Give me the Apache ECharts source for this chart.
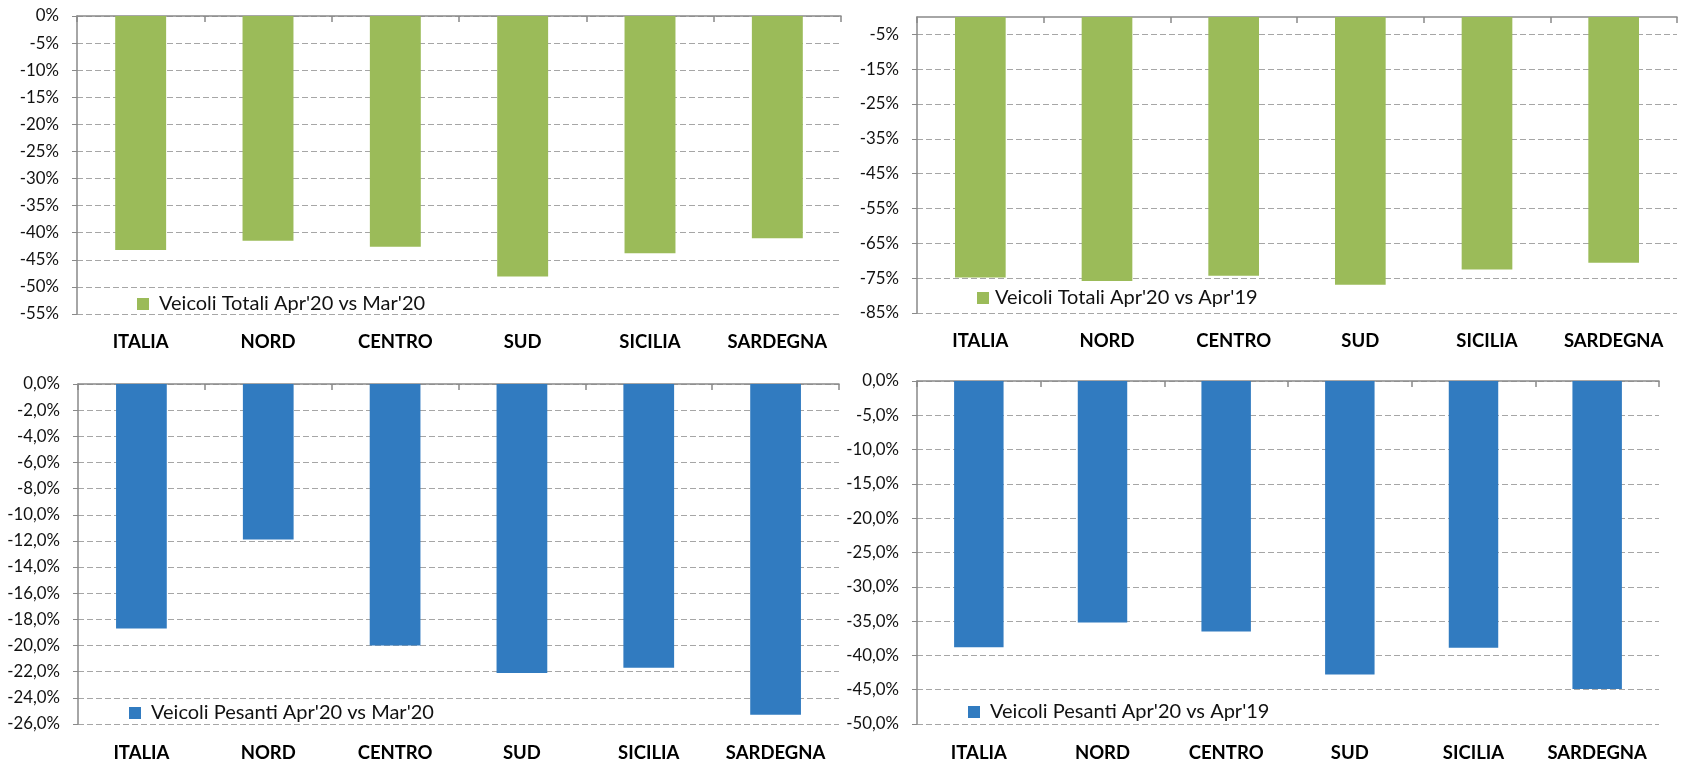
<!DOCTYPE html>
<html>
<head>
<meta charset="utf-8">
<script src="https://cdn.jsdelivr.net/npm/echarts@6/dist/echarts.min.js"></script>
<style>
  html, body { margin: 0; padding: 0; background: #ffffff; }
  #chart { width: 1681px; height: 763px; }
</style>
</head>
<body>
<div id="chart"></div>
<script>
// ---- data ----
const categories = ['ITALIA', 'NORD', 'CENTRO', 'SUD', 'SICILIA', 'SARDEGNA'];
const totaliAprMar = [-43.2, -41.5, -42.6, -48.1, -43.8, -41.0];
const totaliApr19 = [-74.8, -75.8, -74.3, -76.9, -72.5, -70.6];
const pesantiAprMar = [-18.7, -11.9, -20.0, -22.1, -21.7, -25.3];
const pesantiApr19 = [-38.8, -35.2, -36.5, -42.8, -38.9, -44.9];
const seriesNames = [
  "Veicoli Totali Apr'20 vs Mar'20",
  "Veicoli Totali Apr'20 vs Apr'19",
  "Veicoli Pesanti Apr'20 vs Mar'20",
  "Veicoli Pesanti Apr'20 vs Apr'19"
];
const ticksTotaliApr19 = [-85, -75, -65, -55, -45, -35, -25, -15, -5];

// ---- styles ----
const FONT = 'Lato';
const GREEN = '#9bbb59';
const BLUE = '#317bc0';
const AXIS = '#898989';
const GRID = '#a6a6a6';

const panels = [
  { grid: { left: 77, top: 16, width: 764, height: 298 }, data: totaliAprMar, color: GREEN,
    y: { min: -55, max: 0, interval: 5 }, fmt: v => v + '%',
    legend: { left: 137, top: 294 }, gap: 10, labMargin: 19 },
  { grid: { left: 917, top: 17, width: 760, height: 296 }, data: totaliApr19, color: GREEN,
    y: { min: -85, max: 0, custom: ticksTotaliApr19 }, fmt: v => v + '%',
    legend: { left: 977, top: 288 }, gap: 6, labMargin: 19 },
  { grid: { left: 78, top: 384, width: 761, height: 340 }, data: pesantiAprMar, color: BLUE,
    y: { min: -26, max: 0, interval: 2 }, fmt: v => v.toFixed(1).replace('.', ',') + '%',
    legend: { left: 129, top: 703 }, gap: 10, labMargin: 20 },
  { grid: { left: 917, top: 381, width: 742, height: 347 }, data: pesantiApr19, color: BLUE,
    y: { min: -50, max: 0, interval: 5 }, fmt: v => v.toFixed(1).replace('.', ',') + '%',
    legend: { left: 968, top: 702 }, gap: 10, labMargin: 20 }
];

const grids = [], xAxes = [], yAxes = [], series = [], legends = [];
panels.forEach((p, i) => {
  grids.push(Object.assign({ containLabel: false }, p.grid));
  // top axis line with inward ticks
  xAxes.push({
    type: 'category', gridIndex: i, data: categories, position: 'top',
    axisLine: { show: true, onZero: false, lineStyle: { color: AXIS, width: 1.5 } },
    axisTick: { show: true, inside: true, length: 6, lineStyle: { color: AXIS, width: 1.5 } },
    axisLabel: { show: false }, splitLine: { show: false }
  });
  // bottom category labels
  xAxes.push({
    type: 'category', gridIndex: i, data: categories, position: 'bottom',
    axisLine: { show: false }, axisTick: { show: false },
    axisLabel: { show: true, interval: 0, hideOverlap: false, margin: p.labMargin, color: '#000',
      fontFamily: FONT, fontWeight: 'bold', fontSize: 18.5 },
    splitLine: { show: false }
  });
  const y = {
    type: 'value', gridIndex: i, min: p.y.min, max: p.y.max,
    axisLine: { show: true, lineStyle: { color: AXIS, width: 1.5 } },
    axisTick: { show: true, length: 5, lineStyle: { color: AXIS, width: 1 } },
    axisLabel: { margin: 18, color: '#111', fontFamily: FONT, fontSize: 16.8, formatter: p.fmt },
    splitLine: { show: true, lineStyle: { color: GRID, width: 1, type: [6, 3] } }
  };
  if (p.y.interval) y.interval = p.y.interval;
  if (p.y.custom) {
    y.axisTick.customValues = p.y.custom;
    y.axisLabel.customValues = p.y.custom;
  }
  yAxes.push(y);
  series.push({
    type: 'bar', name: seriesNames[i], xAxisIndex: 2 * i, yAxisIndex: i,
    data: p.data, barWidth: '40%',
    itemStyle: { color: p.color }
  });
  legends.push({
    data: [seriesNames[i]], left: p.legend.left, top: p.legend.top, padding: 0,
    icon: 'rect', itemWidth: 12, itemHeight: 12,
    textStyle: { fontFamily: FONT, fontSize: 20, color: '#111', padding: [0, 0, 0, p.gap - 5] },
    selectedMode: false
  });
});

const chart = echarts.init(document.getElementById('chart'), null, { renderer: 'canvas' });
chart.setOption({
  animation: false,
  backgroundColor: '#ffffff',
  grid: grids, xAxis: xAxes, yAxis: yAxes, series: series, legend: legends
});
</script>
</body>
</html>
